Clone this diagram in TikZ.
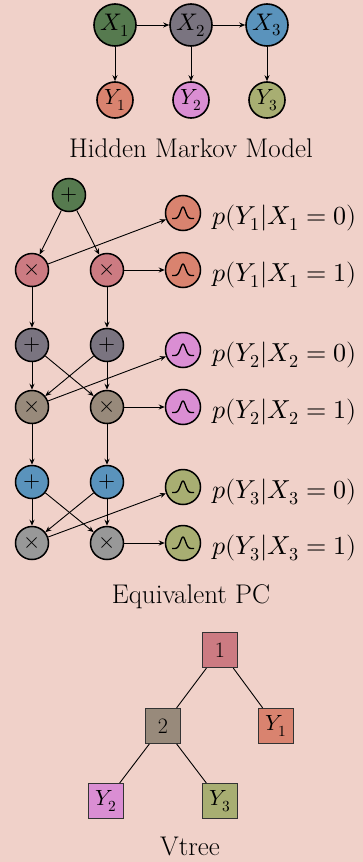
\documentclass[tikz,border=0pt]{standalone}
\usepackage{fontspec}
\usepackage{unicode-math}
\usetikzlibrary{arrows.meta}
\definecolor{bg}{RGB}{240,209,201}
\definecolor{cxa}{RGB}{86,122,79}
\definecolor{cxb}{RGB}{122,116,128}
\definecolor{cxc}{RGB}{90,147,188}
\definecolor{cya}{RGB}{217,131,111}
\definecolor{cyb}{RGB}{218,142,211}
\definecolor{cyc}{RGB}{168,174,114}
\definecolor{cpa}{RGB}{204,123,130}
\definecolor{cpb}{RGB}{152,138,123}
\definecolor{cpc}{RGB}{152,152,152}
\tikzset{
  hmmnode/.style={circle, draw=black, line width=1.6pt, minimum size=42pt, inner sep=0pt, font=\fontsize{24}{28}\selectfont},
  obsnode/.style={hmmnode, minimum size=36pt, font=\fontsize{22}{26}\selectfont},
  pcnode/.style={circle, draw=black, line width=1.5pt, minimum size=33pt, inner sep=0pt, font=\fontsize{22}{26}\selectfont},
  leafnode/.style={circle, draw=black, line width=1.5pt, minimum size=35pt, inner sep=0pt},
  vtnode/.style={rectangle, draw=black!80, line width=1.1pt, minimum size=35pt, inner sep=0pt, font=\fontsize{22}{26}\selectfont},
  edge/.style={line width=0.9pt, -{Stealth[length=6pt,width=5pt]}},
  vtedge/.style={line width=0.9pt},
  captext/.style={font=\fontsize{27}{32}\selectfont, anchor=base, inner sep=0pt},
  labtext/.style={font=\fontsize{26}{30}\selectfont, anchor=base west, inner sep=0pt},
  bump/.style={line width=1.3pt}
}
\begin{document}
\begin{tikzpicture}[x=1pt,y=-1pt]
\fill[bg] (0,0) rectangle (363,862);
\useasboundingbox (0,0) rectangle (363,862);
% HMM
\node[hmmnode, fill=cxa] (X1) at (115,25) {$X_1$};
\node[hmmnode, fill=cxb] (X2) at (191,25) {$X_2$};
\node[hmmnode, fill=cxc] (X3) at (267,25) {$X_3$};
\node[obsnode, fill=cya] (Y1) at (115,100) {$Y_1$};
\node[obsnode, fill=cyb] (Y2) at (191,100) {$Y_2$};
\node[obsnode, fill=cyc] (Y3) at (267,100) {$Y_3$};
\draw[edge] (X1) -- (X2);
\draw[edge] (X2) -- (X3);
\draw[edge] (X1) -- (Y1);
\draw[edge] (X2) -- (Y2);
\draw[edge] (X3) -- (Y3);
\node[captext] (cap1) at (191,157) {Hidden Markov Model};
% PC
\node[pcnode, fill=cxa] (s0) at (69,195) {$+$};
\node[pcnode, fill=cpa] (p1a) at (32,270) {$\times$};
\node[pcnode, fill=cpa] (p1b) at (107,270) {$\times$};
\node[pcnode, fill=cxb] (s2a) at (32,345) {$+$};
\node[pcnode, fill=cxb] (s2b) at (107,345) {$+$};
\node[pcnode, fill=cpb] (p2a) at (32,407) {$\times$};
\node[pcnode, fill=cpb] (p2b) at (107,407) {$\times$};
\node[pcnode, fill=cxc] (s3a) at (32,482) {$+$};
\node[pcnode, fill=cxc] (s3b) at (107,482) {$+$};
\node[pcnode, fill=cpc] (p3a) at (32,543) {$\times$};
\node[pcnode, fill=cpc] (p3b) at (107,543) {$\times$};
\node[leafnode, fill=cya] (l10) at (183,213) {};
\node[leafnode, fill=cya] (l11) at (183,270) {};
\node[leafnode, fill=cyb] (l20) at (183,350) {};
\node[leafnode, fill=cyb] (l21) at (183,407) {};
\node[leafnode, fill=cyc] (l30) at (183,487) {};
\node[leafnode, fill=cyc] (l31) at (183,543) {};
\foreach \n in {l10,l11,l20,l21,l30,l31}
  \draw[bump, shift={(\n.center)}] plot[domain=-11:11, samples=41, smooth] (\x,{5.5-11.5*exp(-(\x/3.6)^2)});
\node[labtext] (t10) at (212,224) {$p(Y_1|X_1=0)$};
\node[labtext] (t11) at (212,281) {$p(Y_1|X_1=1)$};
\node[labtext] (t20) at (212,361) {$p(Y_2|X_2=0)$};
\node[labtext] (t21) at (212,418) {$p(Y_2|X_2=1)$};
\node[labtext] (t30) at (212,498) {$p(Y_3|X_3=0)$};
\node[labtext] (t31) at (212,554) {$p(Y_3|X_3=1)$};
\draw[edge] (s0) -- (p1a);
\draw[edge] (s0) -- (p1b);
\draw[edge] (p1a) -- (l10);
\draw[edge] (p1b) -- (l11);
\draw[edge] (p1a) -- (s2a);
\draw[edge] (p1b) -- (s2b);
\draw[edge] (s2a) -- (p2a);
\draw[edge] (s2a) -- (p2b);
\draw[edge] (s2b) -- (p2b);
\draw[edge] (s2b) -- (p2a);
\draw[edge] (p2a) -- (l20);
\draw[edge] (p2b) -- (l21);
\draw[edge] (p2a) -- (s3a);
\draw[edge] (p2b) -- (s3b);
\draw[edge] (s3a) -- (p3a);
\draw[edge] (s3a) -- (p3b);
\draw[edge] (s3b) -- (p3b);
\draw[edge] (s3b) -- (p3a);
\draw[edge] (p3a) -- (l30);
\draw[edge] (p3b) -- (l31);
\node[captext] (cap2) at (191,603) {Equivalent PC};
% Vtree
\node[vtnode, fill=cpa] (v1) at (220,650) {1};
\node[vtnode, fill=cpb] (v2) at (163,726) {2};
\node[vtnode, fill=cya] (vy1) at (276,726) {$Y_1$};
\node[vtnode, fill=cyb] (vy2) at (106,801) {$Y_2$};
\node[vtnode, fill=cyc] (vy3) at (220,801) {$Y_3$};
\draw[vtedge] (v1) -- (v2);
\draw[vtedge] (v1) -- (vy1);
\draw[vtedge] (v2) -- (vy2);
\draw[vtedge] (v2) -- (vy3);
\node[captext] (cap3) at (190,855) {Vtree};
\end{tikzpicture}
\end{document}
